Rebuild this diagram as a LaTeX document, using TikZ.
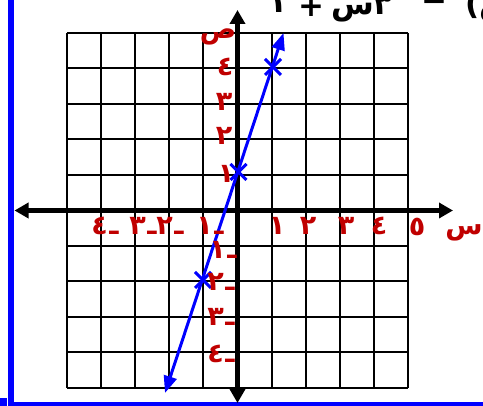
\documentclass[tikz,border=0pt]{standalone}
\usepackage{fontspec}
\newfontfamily\arabicfont[Script=Arabic]{DejaVu Sans}
\TeXXeTstate=1
\usetikzlibrary{arrows.meta,shapes.misc}
\definecolor{lblred}{RGB}{192,0,0}
\definecolor{lineblue}{RGB}{0,0,255}
\newcommand{\negl}[1]{#1\kern1.5pt ـ}
\begin{document}
\begin{tikzpicture}[x=1pt,y=-1pt,
  gridline/.style={line width=2pt,black},
  axisline/.style={line width=4.5pt,black,{Triangle[length=14pt,width=15pt]}-{Triangle[length=14pt,width=15pt]}},
  graphline/.style={line width=3pt,lineblue,{Triangle[length=17pt,width=13pt]}-{Triangle[length=17pt,width=13pt]}},
  xmark/.style={cross out,draw=lineblue,line width=3pt,minimum size=13pt,inner sep=0pt},
  lbl/.style={text=lblred,font=\arabicfont\bfseries\fontsize{27}{27}\selectfont,inner sep=0pt},
  ttl/.style={text=black,font=\arabicfont\bfseries\fontsize{31}{31}\selectfont,inner sep=0pt},
  frame/.style={fill=lineblue,draw=none}]
\useasboundingbox (0,0) rectangle (483,406);
\clip (0,0) rectangle (483,406);
\fill[white] (0,0) rectangle (483,406);
% blue frame
\fill[frame] (0,398) rectangle (7,406);
\fill[frame] (7.5,0) rectangle (14,406);
\fill[frame] (14,402) rectangle (483,406);
% grid
\foreach \i in {0,...,10} {
  \draw[gridline] ({66.75+34.15*\i},33) -- ({66.75+34.15*\i},388);
  \draw[gridline] (66.75,{33+35.5*\i}) -- (408.25,{33+35.5*\i});
}
% axes
\coordinate (xl) at (14.5,210.5);
\coordinate (xr) at (453,210.5);
\coordinate (yt) at (237.5,10);
\coordinate (yb) at (237.5,403);
\draw[axisline] (xl) -- (xr);
\draw[axisline] (yb) -- (yt);
% graph line
\coordinate (lt) at (283.5,33);
\coordinate (lb) at (165,393);
\draw[graphline] (lb) -- (lt);
\node[xmark] (p1) at (273,67) {};
\node[xmark] (p2) at (238.5,172) {};
\node[xmark] (p3) at (203,280) {};
% x labels
\node[lbl] (x1) at (277,226) {١};
\node[lbl] (x2) at (308,226) {٢};
\node[lbl] (x3) at (346,226) {٣};
\node[lbl] (x4) at (379,226) {٤};
\node[lbl] (x5) at (417,227) {٥};
\node[lbl] (xs) at (464,233) {س};
\node[lbl] (xm1) at (210,226) {\negl{١}};
\node[lbl] (xm2) at (170,226) {\negl{٢}};
\node[lbl] (xm3) at (143,226) {\negl{٣}};
\node[lbl] (xm4) at (105,226) {\negl{٤}};
% y labels
\node[lbl] (ys) at (218,37) {ص};
\node[lbl] (y4) at (225,67) {٤};
\node[lbl] (y3) at (224,102) {٣};
\node[lbl] (y2) at (224,136) {٢};
\node[lbl] (y1) at (226,174) {١};
\node[lbl] (ym1) at (223,250) {\negl{١}};
\node[lbl] (ym2) at (221,282) {\negl{٢}};
\node[lbl] (ym3) at (221,317) {\negl{٣}};
\node[lbl] (ym4) at (221,354) {\negl{٤}};
% title (cut off at the top and right edge, as in the reference)
\node[ttl,anchor=base] (t1) at (278,13) {١};
\node[ttl] (t2) at (311,7) {+};
\node[ttl,anchor=base] (t3) at (362,15) {٣س};
\node[ttl] (t4) at (434.5,6) {−};
\node[ttl,anchor=base west] (t5) at (465,15) {\beginR د(س)\endR};
\end{tikzpicture}
\end{document}
